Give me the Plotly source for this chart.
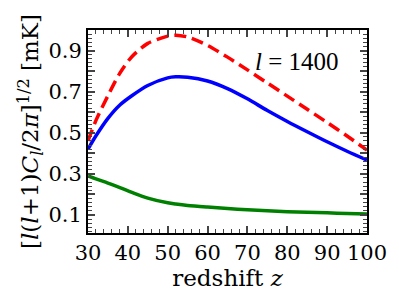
import plotly.graph_objects as go

z = [30, 32, 35, 38, 41, 45, 50, 52, 55, 60, 65, 70, 75, 80, 85, 90, 95, 100]
red = [0.46, 0.56, 0.68, 0.79, 0.87, 0.935, 0.97, 0.975, 0.966, 0.925, 0.868, 0.806, 0.742, 0.678, 0.614, 0.55, 0.484, 0.415]
blue = [0.42, 0.485, 0.57, 0.635, 0.68, 0.73, 0.767, 0.772, 0.77, 0.752, 0.715, 0.665, 0.608, 0.555, 0.505, 0.456, 0.41, 0.367]
green = [0.29, 0.275, 0.255, 0.233, 0.21, 0.182, 0.159, 0.153, 0.146, 0.138, 0.131, 0.125, 0.12, 0.116, 0.113, 0.11, 0.107, 0.104]

xticks = [30, 40, 50, 60, 70, 80, 90, 100]
yticks = [0.1, 0.2, 0.3, 0.4, 0.5, 0.6, 0.7, 0.8, 0.9]
ylabels = ["0.1", "", "0.3", "", "0.5", "", "0.7", "", "0.9"]

SERIF = "DejaVu Serif"
fig = go.Figure()
fig.add_trace(go.Scatter(x=z, y=red, mode="lines", line=dict(color="#ff0000", width=3.5, dash="12px,6px", shape="spline", smoothing=0.8)))
fig.add_trace(go.Scatter(x=z, y=blue, mode="lines", line=dict(color="#0000ff", width=3.5, shape="spline", smoothing=0.8)))
fig.add_trace(go.Scatter(x=z, y=green, mode="lines", line=dict(color="#008000", width=3.5, shape="spline", smoothing=0.8)))

axfont = dict(family=SERIF, size=21, color="black")
fig.update_layout(
    width=391, height=291,
    margin=dict(l=80, r=29, t=22, b=66),
    paper_bgcolor="white", plot_bgcolor="white",
    showlegend=False,
    font=axfont,
    xaxis=dict(range=[30, 100], tickvals=xticks, ticks="inside", ticklen=7, tickwidth=1.5,
               showline=True, linecolor="black", linewidth=2, mirror="allticks", showgrid=False, zeroline=False,
               tickfont=axfont,
               minor=dict(dtick=2, ticks="inside", ticklen=4, tickwidth=1, showgrid=False),
               title=dict(text="redshift <i>z</i>", font=dict(family=SERIF, size=23, color="black"), standoff=2)),
    yaxis=dict(range=[0.012, 1.0], tickvals=yticks, ticktext=ylabels, ticks="inside", ticklen=7, tickwidth=1.5,
               showline=True, linecolor="black", linewidth=2, mirror="allticks", showgrid=False, zeroline=False,
               tickfont=axfont,
               minor=dict(dtick=0.02, ticks="inside", ticklen=4, tickwidth=1, showgrid=False),
               title=dict(text="[<i>l</i>(<i>l</i>+1)<i>C<sub>l</sub></i>/2<i>π</i>]<sup>1/2</sup> [mK]",
                          font=dict(family=SERIF, size=23, color="black"), standoff=3)),
    annotations=[dict(x=82.5, y=0.845, xref="x", yref="y", text="<i>l</i> = 1400", showarrow=False,
                      font=dict(family="Liberation Serif", size=25, color="black"))],
)
fig.write_html("out.html")
